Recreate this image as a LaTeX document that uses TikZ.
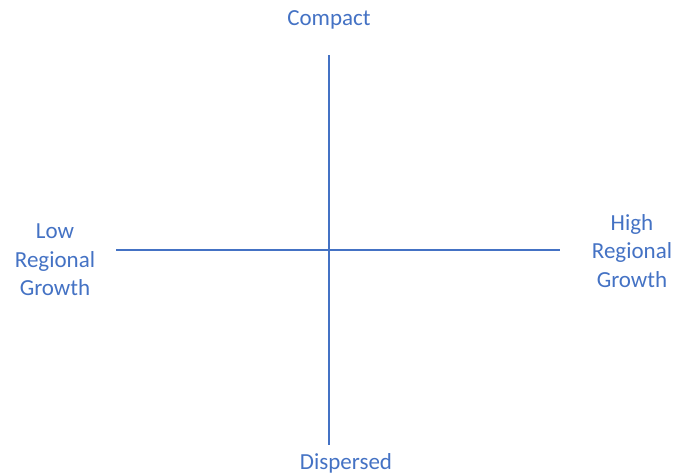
\documentclass[tikz,border=0pt]{standalone}
\usepackage{fontspec}
\setmainfont{Carlito}
\definecolor{axisblue}{HTML}{4472C4}
\begin{document}
\begin{tikzpicture}[x=1pt,y=-1pt,
  lbl/.style={text=axisblue,font=\fontsize{23}{28.5}\selectfont,align=center,inner sep=0pt},
  axis/.style={draw=axisblue,line width=1.5pt}]
\useasboundingbox (0,0) rectangle (673,475);
\coordinate (top) at (329,55);
\coordinate (bot) at (329,445);
\coordinate (lft) at (116,250);
\coordinate (rgt) at (560,250);
\draw[axis] (top) -- (bot);
\draw[axis] (lft) -- (rgt);
\node[lbl] (compact) at (329,20) {Compact};
\node[lbl] (dispersed) at (346,463) {Dispersed};
\node[lbl] (low) at (55,260) {Low\\Regional\\Growth};
\node[lbl] (high) at (632,251) {High\\Regional\\Growth};
\end{tikzpicture}
\end{document}
